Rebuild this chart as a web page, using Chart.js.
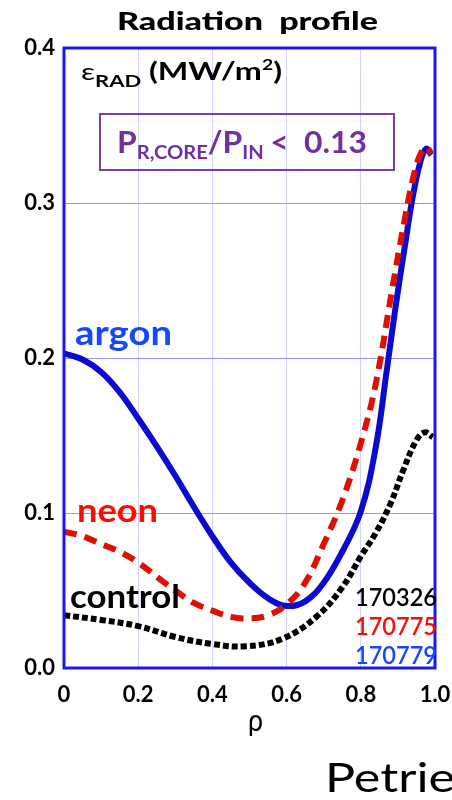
<!DOCTYPE html>
<html>
<head>
<meta charset="utf-8">
<script src="https://cdn.jsdelivr.net/npm/chart.js@4"></script>
<style>
  html, body { margin: 0; padding: 0; background: #fff; }
  #wrap { width: 452px; height: 800px; position: relative; }
</style>
</head>
<body>
<div id="wrap"><canvas id="chartRad" width="452" height="800"></canvas></div>
<script>
// values
const rhoArgon = [0, 0.05, 0.1, 0.15, 0.2, 0.25, 0.3, 0.35, 0.4, 0.45, 0.5, 0.55, 0.6, 0.65, 0.7, 0.75, 0.8, 0.84, 0.87, 0.895, 0.92, 0.94, 0.96, 0.976, 0.99];
const argon    = [0.203, 0.199, 0.191, 0.178, 0.161, 0.143, 0.124, 0.104, 0.085, 0.068, 0.055, 0.045, 0.040, 0.043, 0.055, 0.075, 0.101, 0.142, 0.192, 0.235, 0.274, 0.304, 0.326, 0.335, 0.331];

const rhoNeon = [0, 0.05, 0.1, 0.15, 0.2, 0.26, 0.3, 0.35, 0.4, 0.45, 0.5, 0.55, 0.6, 0.65, 0.7, 0.75, 0.8, 0.84, 0.885, 0.918, 0.94, 0.958, 0.976, 0.99];
const neon    = [0.088, 0.085, 0.080, 0.075, 0.068, 0.057, 0.050, 0.042, 0.037, 0.033, 0.032, 0.034, 0.041, 0.055, 0.080, 0.108, 0.145, 0.183, 0.245, 0.289, 0.315, 0.330, 0.336, 0.332];

const rhoControl = [0, 0.1, 0.2, 0.3, 0.4, 0.49, 0.59, 0.68, 0.75, 0.8, 0.84, 0.88, 0.915, 0.95, 0.972, 0.994];
const control    = [0.034, 0.031, 0.027, 0.020, 0.0155, 0.014, 0.019, 0.033, 0.052, 0.072, 0.087, 0.106, 0.128, 0.147, 0.152, 0.149];

const xTickLabels = ['0', '0.2', '0.4', '0.6', '0.8', '1.0'];
const yTickLabels = ['0.0', '0.1', '0.2', '0.3', '0.4'];
const shotLabels = ['170326', '170775', '170779'];

const FONT = 'Lato, "DejaVu Sans", sans-serif';
const BLUE = '#0a0ad0';
const LABEL_BLUE = '#1447ff';
const RED = '#e01000';

const pts = (xs, ys) => xs.map((x, i) => ({ x: x, y: ys[i] }));

// draw text stretched horizontally to a given width (reference font is much wider)
function fitText(ctx, text, x, y, width, font) {
  ctx.font = font;
  const m = ctx.measureText(text).width;
  ctx.save();
  ctx.translate(x, y);
  ctx.scale(width / m, 1);
  ctx.textAlign = 'left';
  ctx.fillText(text, 0, 0);
  ctx.restore();
}

// text runs with sub/superscripts, stretched to a width
function fitParts(ctx, parts, x, width) {
  let total = 0;
  parts.forEach(p => { ctx.font = p.font; total += ctx.measureText(p.t).width + (p.gap || 0); });
  ctx.save();
  ctx.translate(x, 0);
  ctx.scale(width / total, 1);
  let cx = 0;
  parts.forEach(p => {
    ctx.font = p.font;
    ctx.fillText(p.t, cx, p.y);
    cx += ctx.measureText(p.t).width + (p.gap || 0);
  });
  ctx.restore();
}

const annotations = {
  id: 'annotations',
  afterDraw(chart) {
    const ctx = chart.ctx;
    const a = chart.chartArea;
    ctx.save();

    // frame
    ctx.strokeStyle = '#1a1ae8';
    ctx.lineWidth = 3;
    ctx.strokeRect(a.left, a.top, a.right - a.left, a.bottom - a.top);

    ctx.textBaseline = 'alphabetic';

    // title
    ctx.fillStyle = '#000';
    fitText(ctx, 'Radiation  profile', 117, 30, 261, '900 25px ' + FONT);

    // unit label
    fitParts(ctx, [
      { t: '\u03b5', font: '24px ' + FONT, y: 80 },
      { t: 'RAD', font: 'bold 17px ' + FONT, y: 87, gap: 6 },
      { t: '(MW/m', font: 'bold 25px ' + FONT, y: 80 },
      { t: '2', font: 'bold 15px ' + FONT, y: 70 },
      { t: ')', font: 'bold 25px ' + FONT, y: 80 }
    ], 81, 201);

    // purple box
    ctx.strokeStyle = '#7a3fa8';
    ctx.lineWidth = 2;
    ctx.strokeRect(100, 114, 294, 56);
    ctx.fillStyle = '#7030a0';
    fitParts(ctx, [
      { t: 'P', font: 'bold 30px ' + FONT, y: 153 },
      { t: 'R,CORE', font: 'bold 19px ' + FONT, y: 159 },
      { t: '/P', font: 'bold 30px ' + FONT, y: 153 },
      { t: 'IN', font: 'bold 19px ' + FONT, y: 159, gap: 6 },
      { t: '<  0.13', font: 'bold 30px ' + FONT, y: 153 }
    ], 117, 250);

    // series names
    ctx.fillStyle = LABEL_BLUE;
    fitText(ctx, 'argon', 75, 345, 97, 'bold 34px ' + FONT);
    ctx.fillStyle = '#ff0a00';
    fitText(ctx, 'neon', 77, 522, 81, 'bold 33px ' + FONT);
    ctx.fillStyle = '#000';
    fitText(ctx, 'control', 70, 608, 110, 'bold 32px ' + FONT);

    // shot numbers
    ctx.fillStyle = '#000';
    fitText(ctx, shotLabels[0], 355, 606, 82, '600 25px ' + FONT);
    ctx.fillStyle = '#ff0a00';
    fitText(ctx, shotLabels[1], 355, 635, 82, '600 25px ' + FONT);
    ctx.fillStyle = LABEL_BLUE;
    fitText(ctx, shotLabels[2], 355, 664, 82, '600 25px ' + FONT);

    // axis name
    ctx.fillStyle = '#000';
    fitText(ctx, '\u03c1', 248, 731, 15, '30px ' + FONT);

    // author
    fitText(ctx, 'Petrie', 325, 792, 130, '400 41px ' + FONT);

    ctx.restore();
  }
};

const ctx = document.getElementById('chartRad').getContext('2d');
new Chart(ctx, {
  type: 'line',
  data: {
    datasets: [
      {
        label: 'control',
        data: pts(rhoControl, control),
        borderColor: '#000',
        borderWidth: 6,
        borderDash: [6, 3],
        borderCapStyle: 'butt',
        pointRadius: 0,
        tension: 0.4
      },
      {
        label: 'neon',
        data: pts(rhoNeon, neon),
        borderColor: RED,
        borderWidth: 6,
        borderDash: [13, 8],
        borderCapStyle: 'butt',
        pointRadius: 0,
        tension: 0.4
      },
      {
        label: 'argon',
        data: pts(rhoArgon, argon),
        borderColor: BLUE,
        borderWidth: 6,
        pointRadius: 0,
        tension: 0.4
      }
    ]
  },
  options: {
    responsive: false,
    animation: false,
    layout: { padding: { left: 0, right: 17, top: 48, bottom: 0 } },
    plugins: {
      legend: { display: false },
      tooltip: { enabled: false }
    },
    scales: {
      x: {
        type: 'linear',
        min: 0,
        max: 1,
        afterFit(scale) { scale.height = 132; scale.paddingLeft = 0; scale.paddingRight = 0; },
        ticks: {
          stepSize: 0.2,
          autoSkip: false,
          maxRotation: 0,
          padding: 14,
          color: '#000',
          font: { family: FONT, size: 22, weight: 'bold' },
          callback: (v, i) => xTickLabels[i]
        },
        grid: { color: '#cfd5fb', lineWidth: 1, drawTicks: false },
        border: { display: false }
      },
      y: {
        min: 0,
        max: 0.4,
        afterFit(scale) { scale.width = 64; },
        ticks: {
          stepSize: 0.1,
          padding: 9,
          color: '#000',
          font: { family: FONT, size: 22, weight: 'bold' },
          callback: (v, i) => yTickLabels[i]
        },
        grid: { color: '#8f9af5', lineWidth: 1, drawTicks: false },
        border: { display: false }
      }
    }
  },
  plugins: [annotations]
});
</script>
</body>
</html>
